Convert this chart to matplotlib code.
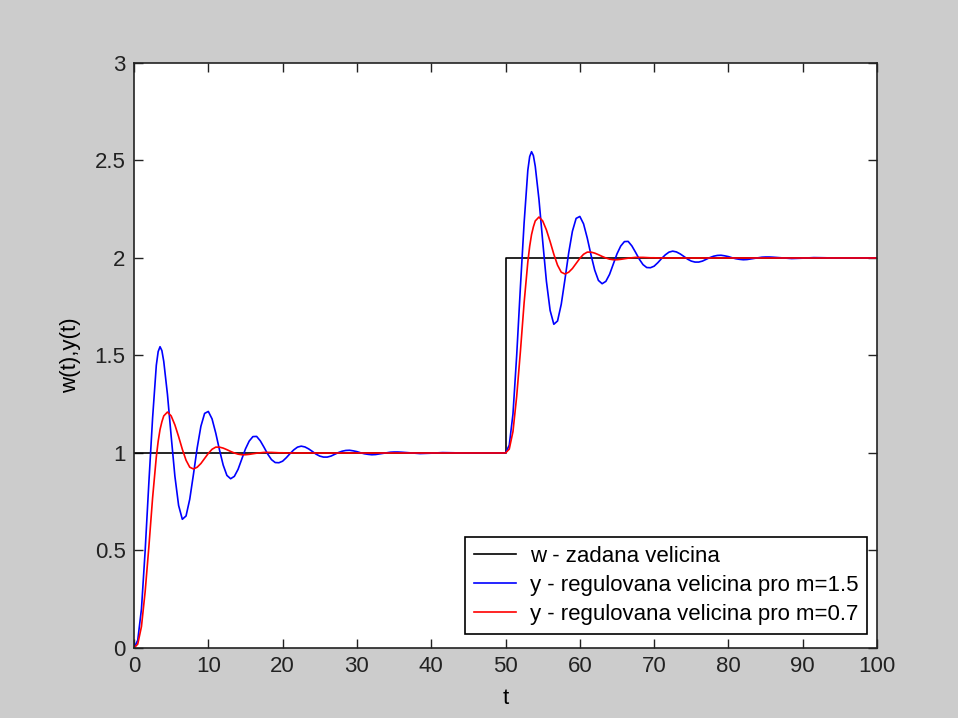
import numpy as np
import matplotlib
matplotlib.use("Agg")
from matplotlib import pyplot as plt

# values (step response of the loop to a unit step)
t_resp = [0, 0.5, 1, 1.5, 2, 2.5, 3, 3.25, 3.5, 3.75, 4, 4.5, 5, 5.5, 6,
          6.5, 7, 7.5, 8, 8.5, 9, 9.5, 10, 10.5, 11, 11.5, 12, 12.5, 13,
          13.5, 14, 14.5, 15, 15.5, 16, 16.5, 17, 17.5, 18, 18.5, 19, 19.5,
          20, 20.5, 21, 21.5, 22, 22.5, 23, 23.5, 24, 24.5, 25, 25.5, 26,
          26.5, 27, 27.5, 28, 28.5, 29, 29.5, 30, 30.5, 31, 31.5, 32, 32.5,
          33, 33.5, 34, 34.5, 35, 35.5, 36, 37, 38.5, 40, 41.5, 43, 45, 47,
          50]

y_m15 = [0.0, 0.04, 0.20, 0.50, 0.85, 1.18, 1.45, 1.52, 1.545, 1.525,
         1.47, 1.30, 1.086, 0.881, 0.731, 0.660, 0.677, 0.763, 0.891, 1.026,
         1.137, 1.203, 1.213, 1.175, 1.102, 1.016, 0.938, 0.885, 0.868,
         0.880, 0.916, 0.968, 1.021, 1.061, 1.084, 1.085, 1.062, 1.029,
         0.994, 0.966, 0.951, 0.950, 0.958, 0.976, 0.997, 1.016, 1.030,
         1.035, 1.031, 1.021, 1.008, 0.994, 0.984, 0.979, 0.979, 0.984,
         0.993, 1.002, 1.009, 1.013, 1.014, 1.011, 1.007, 1.001, 0.996,
         0.993, 0.991, 0.992, 0.995, 0.998, 1.001, 1.004, 1.005, 1.005,
         1.004, 1.001, 0.997, 0.999, 1.002, 1.001, 0.999, 1.0, 1.0]

y_m07 = [0.0, 0.02, 0.11, 0.29, 0.52, 0.77, 0.98, 1.06, 1.12, 1.16, 1.19,
         1.21, 1.19, 1.144, 1.084, 1.019, 0.963, 0.927, 0.918, 0.927, 0.946,
         0.972, 0.998, 1.019, 1.030, 1.030, 1.025, 1.017, 1.008, 1.000,
         0.994, 0.991, 0.991, 0.993, 0.996, 0.999, 1.001, 1.003, 1.003,
         1.003, 1.002, 1.001, 1.001, 1.0, 1.0, 1.0, 1.0, 1.0, 1.0, 1.0,
         1.0, 1.0, 1.0, 1.0, 1.0, 1.0, 1.0, 1.0, 1.0, 1.0, 1.0, 1.0, 1.0,
         1.0, 1.0, 1.0, 1.0, 1.0, 1.0, 1.0, 1.0, 1.0, 1.0, 1.0, 1.0, 1.0,
         1.0, 1.0, 1.0, 1.0, 1.0, 1.0, 1.0]

# setpoint w(t): steps at these times to these levels
step_times = [0, 50, 100]
step_levels = [1, 2, 2]

labels = ['w - zadana velicina',
          'y - regulovana velicina pro m=1.5',
          'y - regulovana velicina pro m=0.7']


def two_steps(resp):
    # second unit step at t=50 adds the same response on top of level 1
    t = np.array(t_resp)
    y = np.array(resp)
    return (np.concatenate([t, 50 + t[1:]]),
            np.concatenate([y, 1 + y[1:]]))


plt.rcParams['font.family'] = ['Liberation Sans', 'DejaVu Sans']
plt.rcParams['font.size'] = 16

fig = plt.figure(figsize=(9.58, 7.18), dpi=100, facecolor='#cccccc')
ax = fig.add_axes([0.1399, 0.0975, 0.7756, 0.8148])

ax.plot(step_times, step_levels, drawstyle='steps-post', color='k', lw=1.2,
        label=labels[0])
t1, y1 = two_steps(y_m15)
ax.plot(t1, y1, color='#0000ff', lw=1.2, label=labels[1])
t2, y2 = two_steps(y_m07)
ax.plot(t2, y2, color='#ff0000', lw=1.2, label=labels[2])

ax.set_xlim(0, 100)
ax.set_ylim(0, 3)
ax.set_xticks(np.arange(0, 101, 10))
ax.set_yticks([0, 0.5, 1, 1.5, 2, 2.5, 3])
ax.set_yticklabels(['0', '0.5', '1', '1.5', '2', '2.5', '3'])
ax.tick_params(direction='in', length=6.5, width=1, top=True, right=True,
               labelsize=16, colors='#222222')
ax.tick_params(axis='x', pad=6)
ax.tick_params(axis='y', pad=6)
for s in ax.spines.values():
    s.set_linewidth(1.2)
    s.set_color('#222222')

ax.set_xlabel('t', fontsize=16, labelpad=8)
ax.set_ylabel('w(t),y(t)', fontsize=16, labelpad=10)

leg = ax.legend(loc='lower right', bbox_to_anchor=(0.9866, 0.0239),
                borderaxespad=0, fancybox=False, framealpha=1,
                edgecolor='k', fontsize=16, handlelength=1.9,
                handletextpad=0.6, labelspacing=0.36, borderpad=0.4)
leg.get_frame().set_linewidth(1.2)

fig.savefig('out.png', dpi=100, facecolor=fig.get_facecolor())
